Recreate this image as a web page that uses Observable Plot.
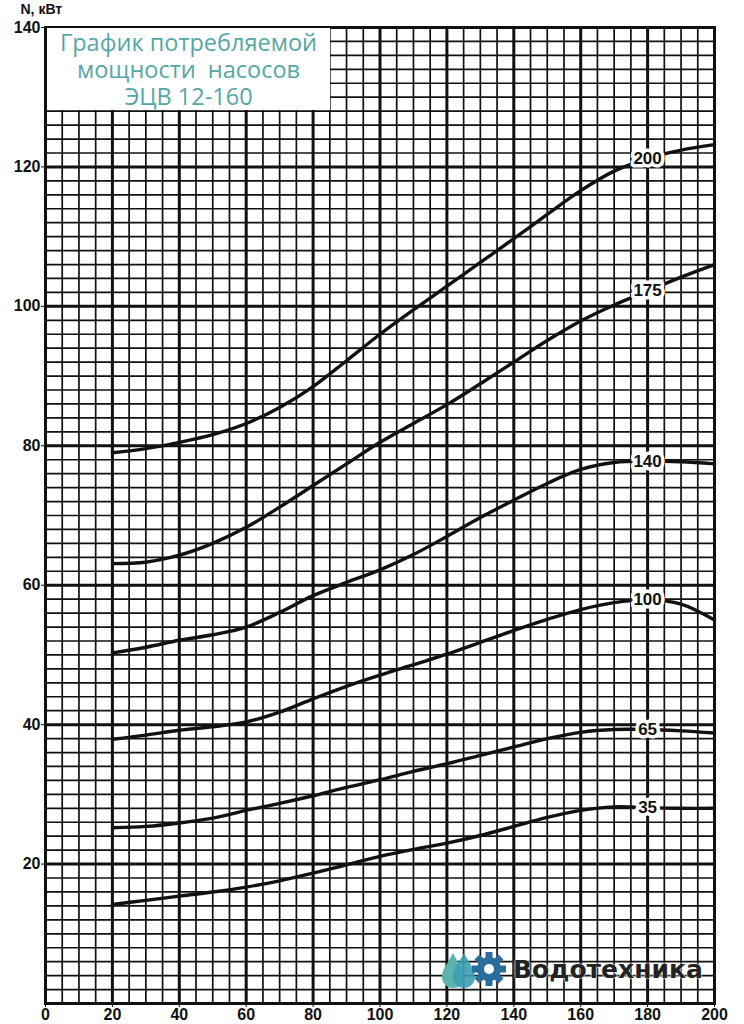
<!DOCTYPE html>
<html>
<head>
<meta charset="utf-8">
<script src="https://cdn.jsdelivr.net/npm/d3@7"></script>
<script src="https://cdn.jsdelivr.net/npm/@observablehq/plot@0.6"></script>
<style>
  html, body { margin: 0; padding: 0; background: #fff; }
  #wrap { position: relative; width: 744px; height: 1024px; overflow: hidden; }
  #title {
    position: absolute; left: 47px; top: 28px; width: 283px; height: 82px;
    background: #fff; text-align: center; color: #55a7a7;
    font-family: "Open Sans", sans-serif; font-size: 23.5px; line-height: 27px;
    padding-top: 1px; box-sizing: border-box; white-space: pre;
  }
  #logo {
    position: absolute; left: 440px; top: 949px; height: 40px; display: flex; align-items: center;
  }
  #logo span {
    font-family: "DejaVu Sans", sans-serif; font-weight: bold; font-size: 25px;
    color: #222; margin-left: 5px;
    text-shadow: 0 0 2px #fff, 0 0 2px #fff;
  }
  #chart svg text { font-weight: bold; }
</style>
</head>
<body>
<div id="wrap">
  <div id="chart"></div>
  <div id="title">График потребляемой
мощности  насосов
ЭЦВ 12-160</div>
  <div id="logo">
    <svg width="68" height="40" viewBox="0 0 68 40">
      <path d="M13 4 C 8 14, 2 20, 2 28 A 11 11 0 0 0 24 28 C 24 20, 18 14, 13 4 Z" fill="#5ab3ad"/>
      <path d="M24 4 C 19 14, 13 20, 13 28 A 11 11 0 0 0 35 28 C 35 20, 29 14, 24 4 Z" fill="#3b9db3" fill-opacity="0.9"/>
      <g transform="translate(49,20)">
        <g fill="#2a6c9c">
          <circle r="12"/>
          <rect x="-3.5" y="-17" width="7" height="34"/>
          <rect x="-17" y="-3.5" width="34" height="7"/>
          <rect x="-3.5" y="-17" width="7" height="34" transform="rotate(45)"/>
          <rect x="-3.5" y="-17" width="7" height="34" transform="rotate(-45)"/>
        </g>
        <circle r="5" fill="#fff"/>
      </g>
    </svg>
    <span>Водотехника</span>
  </div>
</div>
<script>
// Flow Q, m³/h
const flow = [20, 30, 40, 50, 60, 70, 80, 90, 100, 110, 120, 130, 140, 150, 160, 170, 180, 190, 200];
// Power N, kW for each head curve
const n35  = [14.2, 14.8, 15.4, 16.0, 16.7, 17.6, 18.7, 19.9, 21.1, 22.1, 23.0, 24.1, 25.4, 26.7, 27.7, 28.2, 28.1, 28.0, 28.0];
const n65  = [25.2, 25.4, 25.9, 26.6, 27.7, 28.7, 29.8, 31.0, 32.1, 33.3, 34.4, 35.6, 36.8, 38.0, 38.9, 39.3, 39.3, 39.1, 38.8];
const n100 = [37.9, 38.5, 39.2, 39.7, 40.4, 41.8, 43.7, 45.5, 47.1, 48.6, 50.1, 51.8, 53.5, 55.1, 56.5, 57.5, 57.9, 57.3, 55.0];
const n140 = [50.3, 51.1, 52.1, 52.9, 54.0, 56.1, 58.5, 60.4, 62.2, 64.4, 67.0, 69.7, 72.2, 74.6, 76.6, 77.6, 77.8, 77.7, 77.4];
const n175 = [63.1, 63.3, 64.3, 66.0, 68.3, 71.2, 74.3, 77.4, 80.5, 83.2, 85.9, 88.9, 92.0, 95.1, 97.9, 100.2, 102.2, 104.2, 106.0];
const n200 = [79.0, 79.6, 80.5, 81.6, 83.2, 85.5, 88.5, 92.2, 96.0, 99.5, 102.9, 106.3, 109.7, 113.2, 116.6, 119.4, 121.2, 122.4, 123.2];
const seriesNames = ["35", "65", "100", "140", "175", "200"];
const seriesValues = [n35, n65, n100, n140, n175, n200];
const labelFlow = 180;
const xTicks = [0, 20, 40, 60, 80, 100, 120, 140, 160, 180, 200];
const yTicks = [20, 40, 60, 80, 100, 120, 140];
const yLabel = "N, кВт";

const rows = [];
seriesNames.forEach((name, i) => {
  flow.forEach((q, j) => rows.push({series: name, q, n: seriesValues[i][j]}));
});
const labels = seriesNames.map((name, i) => ({series: name, q: labelFlow, n: seriesValues[i][flow.indexOf(labelFlow)]}));

const xMinor = d3.range(0, 201, 5).filter(v => v % 20 !== 0);
const yMinor = d3.range(0, 141, 2).filter(v => v % 20 !== 0);
const xMajor = d3.range(0, 201, 20);
const yMajor = d3.range(0, 141, 20);

const ink = "#111";
const chart = Plot.plot({
  width: 744,
  height: 1024,
  marginLeft: 45,
  marginRight: 30,
  marginTop: 27,
  marginBottom: 21,
  x: {domain: [0, 200]},
  y: {domain: [0, 140]},
  style: {fontFamily: "'Liberation Sans', Arial, sans-serif", fontSize: "15px", fontWeight: "bold", color: "#111", background: "#fff"},
  marks: [
    Plot.ruleX(xMinor, {stroke: ink, strokeWidth: 1.7}),
    Plot.ruleY(yMinor, {stroke: ink, strokeWidth: 1.7}),
    Plot.ruleX(xMajor, {stroke: ink, strokeWidth: 3}),
    Plot.ruleY(yMajor, {stroke: ink, strokeWidth: 3}),
    Plot.frame({stroke: ink, strokeWidth: 3}),
    Plot.line(rows, {x: "q", y: "n", z: "series", curve: "catmull-rom", stroke: ink, strokeWidth: 3.4}),
    Plot.text(labels, {x: "q", y: "n", text: "series", fill: ink, stroke: "#fff", strokeWidth: 7, fontSize: 17, fontWeight: "bold"}),
    Plot.axisX({ticks: xTicks, tickSize: 4, tickPadding: 1, fontSize: 16, fontWeight: "bold", label: null}),
    Plot.axisY({ticks: yTicks, tickSize: 4, tickPadding: 1, fontSize: 16, fontWeight: "bold", label: null}),
    Plot.text([yLabel], {frameAnchor: "top-left", dx: -25, dy: -18, textAnchor: "start", lineAnchor: "middle", fontSize: 14, fontWeight: "bold", fill: ink})
  ]
});
document.getElementById("chart").appendChild(chart);
</script>
</body>
</html>
